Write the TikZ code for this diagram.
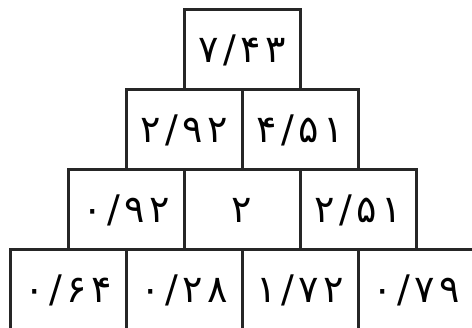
\documentclass[tikz,border=0pt]{standalone}
\usepackage{fontspec}
\newfontfamily\fafont[Script=Arabic,LetterSpace=12]{DejaVu Sans}
\usetikzlibrary{positioning,calc}
\tikzset{
  cell/.style={draw=black!85,line width=3pt,minimum width=116pt,minimum height=80pt,
               inner sep=0pt,outer sep=0pt,font=\fafont\fontsize{38}{42}\selectfont},
}
\begin{document}
\begin{tikzpicture}[x=1pt,y=1pt,node distance=0pt]
\useasboundingbox (0,0) rectangle (472,328);
% bottom row
\node[cell] (b1) at (68,38) {۰/۶۴};
\node[cell, right=of b1] (b2) {۰/۲۸};
\node[cell, right=of b2] (b3) {۱/۷۲};
\node[cell, right=of b3] (b4) {۰/۷۹};
% third row
\node[cell, anchor=south] (t1) at (b1.north east) {۰/۹۲};
\node[cell, right=of t1] (t2) {۲};
\node[cell, right=of t2] (t3) {۲/۵۱};
% second row
\node[cell, anchor=south] (s1) at (t1.north east) {۲/۹۲};
\node[cell, right=of s1] (s2) {۴/۵۱};
% top
\node[cell, anchor=south] (top) at (s1.north east) {۷/۴۳};
\end{tikzpicture}
\end{document}
